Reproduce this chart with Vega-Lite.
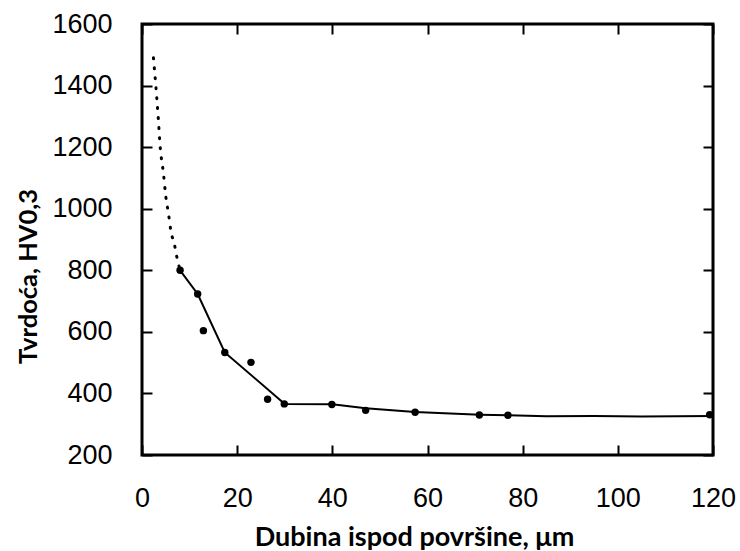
{
  "$schema": "https://vega.github.io/schema/vega-lite/v6.json",
  "width": 571,
  "height": 431,
  "autosize": "none",
  "padding": {"left": 142, "top": 24, "right": 27, "bottom": 96},
  "background": "white",
  "config": {
    "view": {"stroke": "black", "strokeWidth": 3},
    "axis": {
      "domain": false,
      "ticks": false,
      "grid": true,
      "gridColor": "black",
      "gridWidth": 2,
      "gridOpacity": 1,
      "labelFont": "Liberation Sans",
      "labelFontSize": 27,
      "labelColor": "black",
      "titleFont": "Lato",
      "titleFontWeight": "bold",
      "titleFontSize": 26,
      "titleColor": "black"
    }
  },
  "datasets": {
    "dotted": [
      {"depth": 2.4, "hv": 1490},
      {"depth": 2.9, "hv": 1400},
      {"depth": 3.4, "hv": 1298},
      {"depth": 3.8, "hv": 1205},
      {"depth": 4.5, "hv": 1115},
      {"depth": 5.0, "hv": 1040},
      {"depth": 5.6, "hv": 980},
      {"depth": 6.1, "hv": 925},
      {"depth": 6.8, "hv": 885},
      {"depth": 7.3, "hv": 845},
      {"depth": 8.0, "hv": 800}
    ],
    "solid": [
      {"depth": 8.0, "hv": 800},
      {"depth": 11.7, "hv": 723},
      {"depth": 17.4, "hv": 533},
      {"depth": 30.0, "hv": 366},
      {"depth": 40.0, "hv": 365},
      {"depth": 47.0, "hv": 352},
      {"depth": 57.4, "hv": 340},
      {"depth": 71.0, "hv": 331},
      {"depth": 77.0, "hv": 329},
      {"depth": 85.0, "hv": 326},
      {"depth": 95.0, "hv": 327},
      {"depth": 105.0, "hv": 325},
      {"depth": 120.0, "hv": 327}
    ],
    "points": [
      {"depth": 8.0, "hv": 800},
      {"depth": 11.7, "hv": 723},
      {"depth": 12.9, "hv": 604},
      {"depth": 17.4, "hv": 533},
      {"depth": 22.9, "hv": 501},
      {"depth": 26.4, "hv": 381},
      {"depth": 29.9, "hv": 366},
      {"depth": 39.9, "hv": 364},
      {"depth": 47.0, "hv": 345},
      {"depth": 57.4, "hv": 339},
      {"depth": 70.9, "hv": 330},
      {"depth": 76.9, "hv": 329},
      {"depth": 119.3, "hv": 331}
    ]
  },
  "layer": [
    {
      "data": {"name": "dotted"},
      "mark": {"type": "line", "color": "black", "strokeWidth": 3, "strokeDash": [1, 9], "strokeCap": "round", "interpolate": "monotone"},
      "encoding": {
        "x": {
          "field": "depth", "type": "quantitative",
          "scale": {"domain": [0, 120], "nice": false, "zero": false},
          "axis": {
            "orient": "bottom",
            "values": [0, 20, 40, 60, 80, 100, 120],
            "gridDash": [10, 411],
            "labelPadding": 30,
            "labelFlush": false,
            "labelOverlap": false,
            "title": "Dubina ispod površine, μm",
            "titleFontSize": 27,
            "titleX": 272,
            "titleY": 90,
            "titleBaseline": "alphabetic"
          }
        },
        "y": {
          "field": "hv", "type": "quantitative",
          "scale": {"domain": [200, 1600], "nice": false, "zero": false},
          "axis": {
            "orient": "left",
            "values": [200, 400, 600, 800, 1000, 1200, 1400, 1600],
            "gridDash": [10, 551],
            "format": "d",
            "labelPadding": 30,
            "labelFlush": false,
            "labelOverlap": false,
            "title": "Tvrdoća, HV0,3",
            "titleFontSize": 25.5,
            "titleX": -106,
            "titleY": 252,
            "titleAngle": -90,
            "titleAlign": "center",
            "titleBaseline": "alphabetic"
          }
        }
      }
    },
    {
      "data": {"name": "solid"},
      "mark": {"type": "line", "color": "black", "strokeWidth": 2},
      "encoding": {
        "x": {
          "field": "depth", "type": "quantitative",
          "scale": {"domain": [0, 120], "nice": false, "zero": false},
          "axis": {
            "orient": "top",
            "values": [5,10,15,25,30,35,45,50,55,65,70,75,85,90,95,105,110,115],
            "gridDash": [6, 419],
            "labels": false,
            "title": null
          }
        },
        "y": {
          "field": "hv", "type": "quantitative",
          "scale": {"domain": [200, 1600], "nice": false, "zero": false},
          "axis": {
            "orient": "right",
            "values": [250,300,350,450,500,550,650,700,750,850,900,950,1050,1100,1150,1250,1300,1350,1450,1500,1550],
            "gridDash": [7, 557],
            "labels": false,
            "title": null
          }
        }
      }
    },
    {
      "data": {"name": "points"},
      "mark": {"type": "circle", "color": "black", "size": 55, "opacity": 1},
      "encoding": {
        "x": {"field": "depth", "type": "quantitative", "axis": null},
        "y": {"field": "hv", "type": "quantitative", "axis": null}
      }
    }
  ],
  "resolve": {"axis": {"x": "independent", "y": "independent"}}
}
